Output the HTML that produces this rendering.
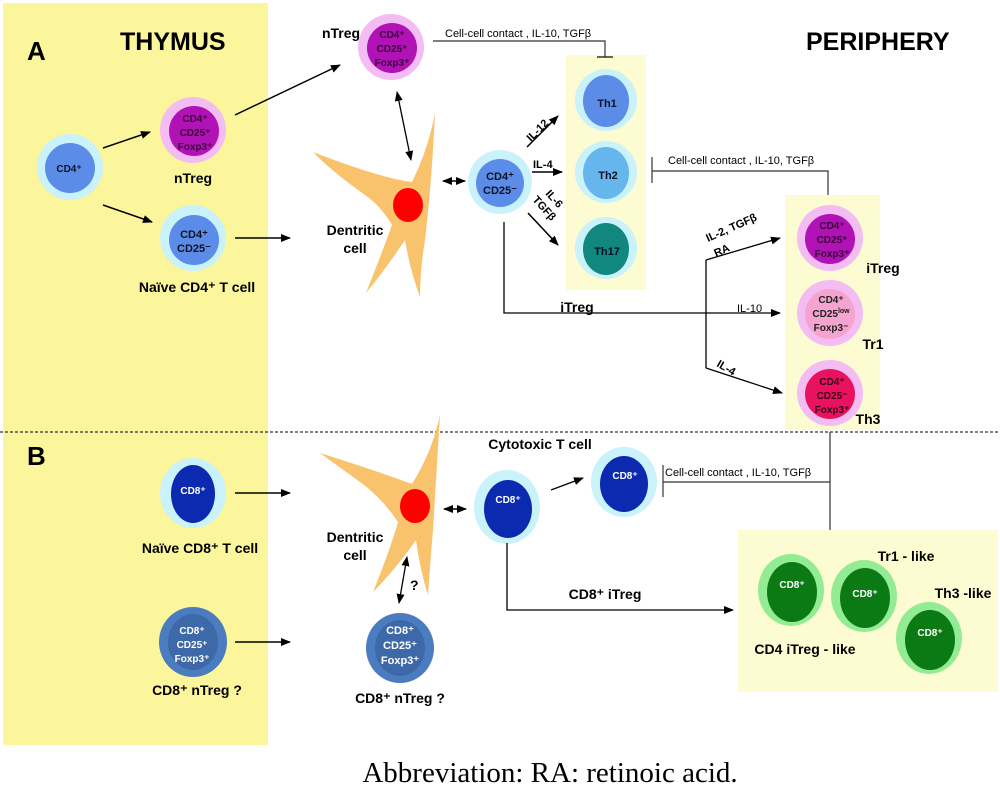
<!DOCTYPE html>
<html><head><meta charset="utf-8"><style>
html,body{margin:0;padding:0;background:#fff;}
svg{display:block;}
text{font-family:"Liberation Sans",Arial,sans-serif;}
.b{font-weight:bold;}
</style></head><body>
<svg width="1000" height="787" viewBox="0 0 1000 787" xmlns="http://www.w3.org/2000/svg">
<defs>
<marker id="ah" markerWidth="10" markerHeight="8" refX="9" refY="4" orient="auto" markerUnits="userSpaceOnUse"><path d="M0,0 L10,4 L0,8 Z" fill="#000"/></marker>
<marker id="as" markerWidth="10" markerHeight="8" refX="1" refY="4" orient="auto" markerUnits="userSpaceOnUse"><path d="M10,0 L0,4 L10,8 Z" fill="#000"/></marker>
</defs>
<rect x="3" y="3" width="265" height="742" fill="#fbf59b"/>
<rect x="566" y="55" width="80" height="235" fill="#fdfbd2"/>
<rect x="785" y="195" width="95" height="235" fill="#fdfbd2"/>
<rect x="738" y="530" width="260" height="162" fill="#fdfbd2"/>
<line x1="0" y1="432" x2="1000" y2="432" stroke="#333" stroke-width="1.2" stroke-dasharray="3,2"/>

<text x="27" y="60" font-size="26" class="b">A</text>
<text x="120" y="50" font-size="25" class="b">THYMUS</text>
<text x="806" y="50" font-size="25" class="b">PERIPHERY</text>
<text x="27" y="465" font-size="26" class="b">B</text>

<path d="M313,152 Q380,178 412,182 Q428,150 435,113 Q432,180 425,240 Q420,270 420,297 Q410,270 405,240 Q385,270 366,293 Q383,250 392,225 Q380,205 365,195 Q330,170 313,152 Z" fill="#f8c36c"/>
<ellipse cx="408" cy="205" rx="15" ry="17" fill="#f00"/>
<text x="355" y="235" font-size="14" class="b" text-anchor="middle">Dentritic</text>
<text x="355" y="253" font-size="14" class="b" text-anchor="middle">cell</text>

<path d="M320,453 Q380,472 412,484 Q432,452 440,415 Q436,480 433,530 Q430,565 428,595 Q420,570 416,540 Q395,570 373,592 Q390,550 398,522 Q382,498 360,482 Q335,464 320,453 Z" fill="#f8c36c"/>
<ellipse cx="415" cy="506" rx="15" ry="17" fill="#f00"/>
<text x="355" y="542" font-size="14" class="b" text-anchor="middle">Dentritic</text>
<text x="355" y="560" font-size="14" class="b" text-anchor="middle">cell</text>

<circle cx="70" cy="167" r="33" fill="#c9f2fb"/><circle cx="70" cy="168" r="25" fill="#5b8de8"/>
<text x="69" y="172" font-size="10" class="b" text-anchor="middle" fill="#112">CD4⁺</text>

<circle cx="193" cy="130" r="33" fill="#f3bdf3"/><circle cx="194" cy="131" r="25" fill="#b012b5"/>
<g font-size="10" class="b" text-anchor="middle" fill="#3a0038"><text x="195" y="122">CD4⁺</text><text x="195" y="136">CD25⁺</text><text x="195" y="150">Foxp3⁺</text></g>
<text x="193" y="183" font-size="14" class="b" text-anchor="middle">nTreg</text>

<circle cx="193" cy="238" r="33" fill="#c9f2fb"/><circle cx="194" cy="240" r="25" fill="#5b8de8"/>
<g font-size="11" class="b" text-anchor="middle" fill="#112"><text x="194" y="238">CD4⁺</text><text x="194" y="252">CD25⁻</text></g>
<text x="197" y="292" font-size="14" class="b" text-anchor="middle">Naïve CD4⁺ T cell</text>

<line x1="103" y1="148" x2="150" y2="132" stroke="#000" stroke-width="1.5" marker-end="url(#ah)"/>
<line x1="103" y1="205" x2="152" y2="222" stroke="#000" stroke-width="1.5" marker-end="url(#ah)"/>
<line x1="235" y1="238" x2="290" y2="238" stroke="#000" stroke-width="1.5" marker-end="url(#ah)"/>
<line x1="235" y1="115" x2="340" y2="65" stroke="#000" stroke-width="1.5" marker-end="url(#ah)"/>

<circle cx="391" cy="47" r="33" fill="#f3bdf3"/><circle cx="392" cy="48" r="25" fill="#b012b5"/>
<g font-size="10" class="b" text-anchor="middle" fill="#3a0038"><text x="392" y="38">CD4⁺</text><text x="392" y="52">CD25⁺</text><text x="392" y="66">Foxp3⁺</text></g>
<text x="341" y="38" font-size="14" class="b" text-anchor="middle">nTreg</text>
<line x1="397" y1="92" x2="411" y2="160" stroke="#000" stroke-width="1.3" marker-start="url(#as)" marker-end="url(#ah)"/>
<text x="445" y="37" font-size="11">Cell-cell contact , IL-10, TGFβ</text>
<polyline points="433,41 605,41 605,57" fill="none" stroke="#333" stroke-width="1.2"/>
<line x1="597" y1="57" x2="613" y2="57" stroke="#333" stroke-width="1.5"/>

<line x1="443" y1="181" x2="465" y2="181" stroke="#000" stroke-width="1.5" marker-start="url(#as)" marker-end="url(#ah)"/>

<circle cx="500" cy="182" r="32" fill="#c9f2fb"/><circle cx="500" cy="183" r="24" fill="#5b8de8"/>
<g font-size="11" class="b" text-anchor="middle" fill="#112"><text x="500" y="180">CD4⁺</text><text x="500" y="194">CD25⁻</text></g>

<line x1="527" y1="147" x2="558" y2="116" stroke="#000" stroke-width="1.5" marker-end="url(#ah)"/>
<text font-size="11" class="b" transform="translate(531,142) rotate(-45)">IL-12</text>
<line x1="532" y1="172" x2="562" y2="172" stroke="#000" stroke-width="1.5" marker-end="url(#ah)"/>
<text x="533" y="168" font-size="11" class="b">IL-4</text>
<line x1="528" y1="213" x2="558" y2="245" stroke="#000" stroke-width="1.5" marker-end="url(#ah)"/>
<text font-size="11" class="b" transform="translate(545,194) rotate(48)">IL-6</text>
<text font-size="11" class="b" transform="translate(532,200) rotate(48)">TGFβ</text>

<circle cx="606" cy="100" r="31" fill="#c9f2fb"/><ellipse cx="606" cy="101" rx="23" ry="26" fill="#5b8de8"/>
<text x="607" y="107" font-size="11" class="b" text-anchor="middle" fill="#112">Th1</text>
<circle cx="606" cy="172" r="31" fill="#c9f2fb"/><ellipse cx="606" cy="173" rx="23" ry="26" fill="#64b6ec"/>
<text x="608" y="179" font-size="11" class="b" text-anchor="middle" fill="#112">Th2</text>
<circle cx="606" cy="248" r="31" fill="#c9f2fb"/><ellipse cx="606" cy="249" rx="23" ry="26" fill="#10877f"/>
<text x="607" y="255" font-size="11" class="b" text-anchor="middle" fill="#012">Th17</text>

<line x1="652" y1="157" x2="652" y2="183" stroke="#333" stroke-width="1.2"/>
<polyline points="652,171 828,171 828,195" fill="none" stroke="#333" stroke-width="1.2"/>
<text x="668" y="164" font-size="11">Cell-cell contact , IL-10, TGFβ</text>

<polyline points="504,222 504,313 780,313" fill="none" stroke="#000" stroke-width="1.3" marker-end="url(#ah)"/>
<text x="577" y="312" font-size="14" class="b" text-anchor="middle">iTreg</text>
<line x1="706" y1="260" x2="706" y2="368" stroke="#000" stroke-width="1.3"/>
<line x1="706" y1="260" x2="780" y2="238" stroke="#000" stroke-width="1.3" marker-end="url(#ah)"/>
<line x1="706" y1="368" x2="782" y2="393" stroke="#000" stroke-width="1.3" marker-end="url(#ah)"/>
<text font-size="11" class="b" transform="translate(708,242) rotate(-24)">IL-2, TGFβ</text>
<text font-size="11" class="b" transform="translate(716,257) rotate(-24)">RA</text>
<text x="737" y="312" font-size="11">IL-10</text>
<text font-size="11" class="b" transform="translate(716,366) rotate(30)">IL-4</text>

<circle cx="830" cy="238" r="33" fill="#f3bdf3"/><circle cx="830" cy="239" r="25" fill="#b012b5"/>
<g font-size="10" class="b" text-anchor="middle" fill="#3a0038"><text x="832" y="229">CD4⁺</text><text x="832" y="243">CD25⁺</text><text x="832" y="257">Foxp3⁺</text></g>
<text x="883" y="273" font-size="14" class="b" text-anchor="middle">iTreg</text>

<circle cx="830" cy="313" r="33" fill="#f3bdf3"/><circle cx="830" cy="314" r="25" fill="#f5a3cf"/>
<g font-size="10" class="b" text-anchor="middle" fill="#222"><text x="831" y="303">CD4⁺</text><text x="831" y="317">CD25<tspan font-size="7" dy="-4">low</tspan></text><text x="831" y="331">Foxp3⁻</text></g>
<text x="873" y="349" font-size="14" class="b" text-anchor="middle">Tr1</text>

<circle cx="830" cy="393" r="33" fill="#f3bdf3"/><circle cx="830" cy="394" r="25" fill="#e8125e"/>
<g font-size="10" class="b" text-anchor="middle" fill="#3a0018"><text x="832" y="385">CD4⁺</text><text x="832" y="399">CD25⁻</text><text x="832" y="413">Foxp3⁺</text></g>
<text x="868" y="424" font-size="14" class="b" text-anchor="middle">Th3</text>

<!-- B section -->
<ellipse cx="193" cy="493" rx="33" ry="35" fill="#c9f2fb"/><ellipse cx="193" cy="494" rx="22" ry="29" fill="#0b2ab0"/>
<text x="193" y="494" font-size="10" class="b" text-anchor="middle" fill="#fff">CD8⁺</text>
<text x="200" y="553" font-size="14" class="b" text-anchor="middle">Naïve CD8⁺ T cell</text>
<line x1="235" y1="493" x2="290" y2="493" stroke="#000" stroke-width="1.5" marker-end="url(#ah)"/>

<ellipse cx="193" cy="642" rx="34" ry="35" fill="#4b7cc0"/><ellipse cx="193" cy="642" rx="25" ry="28" fill="#3d69a8"/>
<g font-size="10" class="b" text-anchor="middle" fill="#fff"><text x="192" y="634">CD8⁺</text><text x="192" y="648">CD25⁺</text><text x="192" y="662">Foxp3⁺</text></g>
<text x="197" y="695" font-size="14" class="b" text-anchor="middle">CD8⁺ nTreg ?</text>
<line x1="235" y1="642" x2="290" y2="642" stroke="#000" stroke-width="1.5" marker-end="url(#ah)"/>

<ellipse cx="400" cy="648" rx="34" ry="35" fill="#4b7cc0"/><ellipse cx="400" cy="648" rx="25" ry="28" fill="#3d69a8"/>
<g font-size="11" class="b" text-anchor="middle" fill="#fff"><text x="400" y="634">CD8⁺</text><text x="400" y="649">CD25⁺</text><text x="400" y="664">Foxp3⁺</text></g>
<text x="400" y="703" font-size="14" class="b" text-anchor="middle">CD8⁺ nTreg ?</text>
<line x1="407" y1="557" x2="399" y2="603" stroke="#000" stroke-width="1.3" marker-start="url(#as)" marker-end="url(#ah)"/>
<text x="410" y="590" font-size="14" class="b">?</text>

<line x1="444" y1="509" x2="466" y2="509" stroke="#000" stroke-width="1.5" marker-start="url(#as)" marker-end="url(#ah)"/>
<ellipse cx="507" cy="507" rx="33" ry="37" fill="#c9f2fb"/><ellipse cx="508" cy="509" rx="24" ry="29" fill="#0b2ab0"/>
<text x="508" y="503" font-size="10" class="b" text-anchor="middle" fill="#fff">CD8⁺</text>
<line x1="551" y1="490" x2="583" y2="478" stroke="#000" stroke-width="1.3" marker-end="url(#ah)"/>
<text x="540" y="449" font-size="14" class="b" text-anchor="middle">Cytotoxic T cell</text>

<ellipse cx="624" cy="482" rx="33" ry="35" fill="#c9f2fb"/><ellipse cx="624" cy="484" rx="24" ry="28" fill="#0b2ab0"/>
<text x="625" y="479" font-size="10" class="b" text-anchor="middle" fill="#fff">CD8⁺</text>

<line x1="663" y1="465" x2="663" y2="497" stroke="#333" stroke-width="1.2"/>
<line x1="663" y1="482" x2="830" y2="482" stroke="#333" stroke-width="1.2"/>
<line x1="830" y1="432" x2="830" y2="530" stroke="#333" stroke-width="1.2"/>
<text x="665" y="476" font-size="11">Cell-cell contact , IL-10, TGFβ</text>

<polyline points="507,543 507,610 733,610" fill="none" stroke="#000" stroke-width="1.3" marker-end="url(#ah)"/>
<text x="605" y="599" font-size="14" class="b" text-anchor="middle">CD8⁺ iTreg</text>

<ellipse cx="791" cy="590" rx="33" ry="36" fill="#93ec93"/><ellipse cx="792" cy="592" rx="25" ry="30" fill="#0b7a15"/>
<text x="792" y="588" font-size="10" class="b" text-anchor="middle" fill="#fff">CD8⁺</text>
<ellipse cx="864" cy="596" rx="33" ry="36" fill="#93ec93"/><ellipse cx="865" cy="598" rx="25" ry="30" fill="#0b7a15"/>
<text x="865" y="597" font-size="10" class="b" text-anchor="middle" fill="#fff">CD8⁺</text>
<ellipse cx="929" cy="638" rx="33" ry="36" fill="#93ec93"/><ellipse cx="930" cy="640" rx="25" ry="30" fill="#0b7a15"/>
<text x="930" y="636" font-size="10" class="b" text-anchor="middle" fill="#fff">CD8⁺</text>
<text x="906" y="561" font-size="14" class="b" text-anchor="middle">Tr1 - like</text>
<text x="963" y="598" font-size="14" class="b" text-anchor="middle">Th3 -like</text>
<text x="805" y="654" font-size="14" class="b" text-anchor="middle">CD4 iTreg - like</text>

<text x="550" y="782" font-size="29" text-anchor="middle" style="font-family:'Liberation Serif',serif">Abbreviation: RA: retinoic acid.</text>
</svg>
</body></html>
